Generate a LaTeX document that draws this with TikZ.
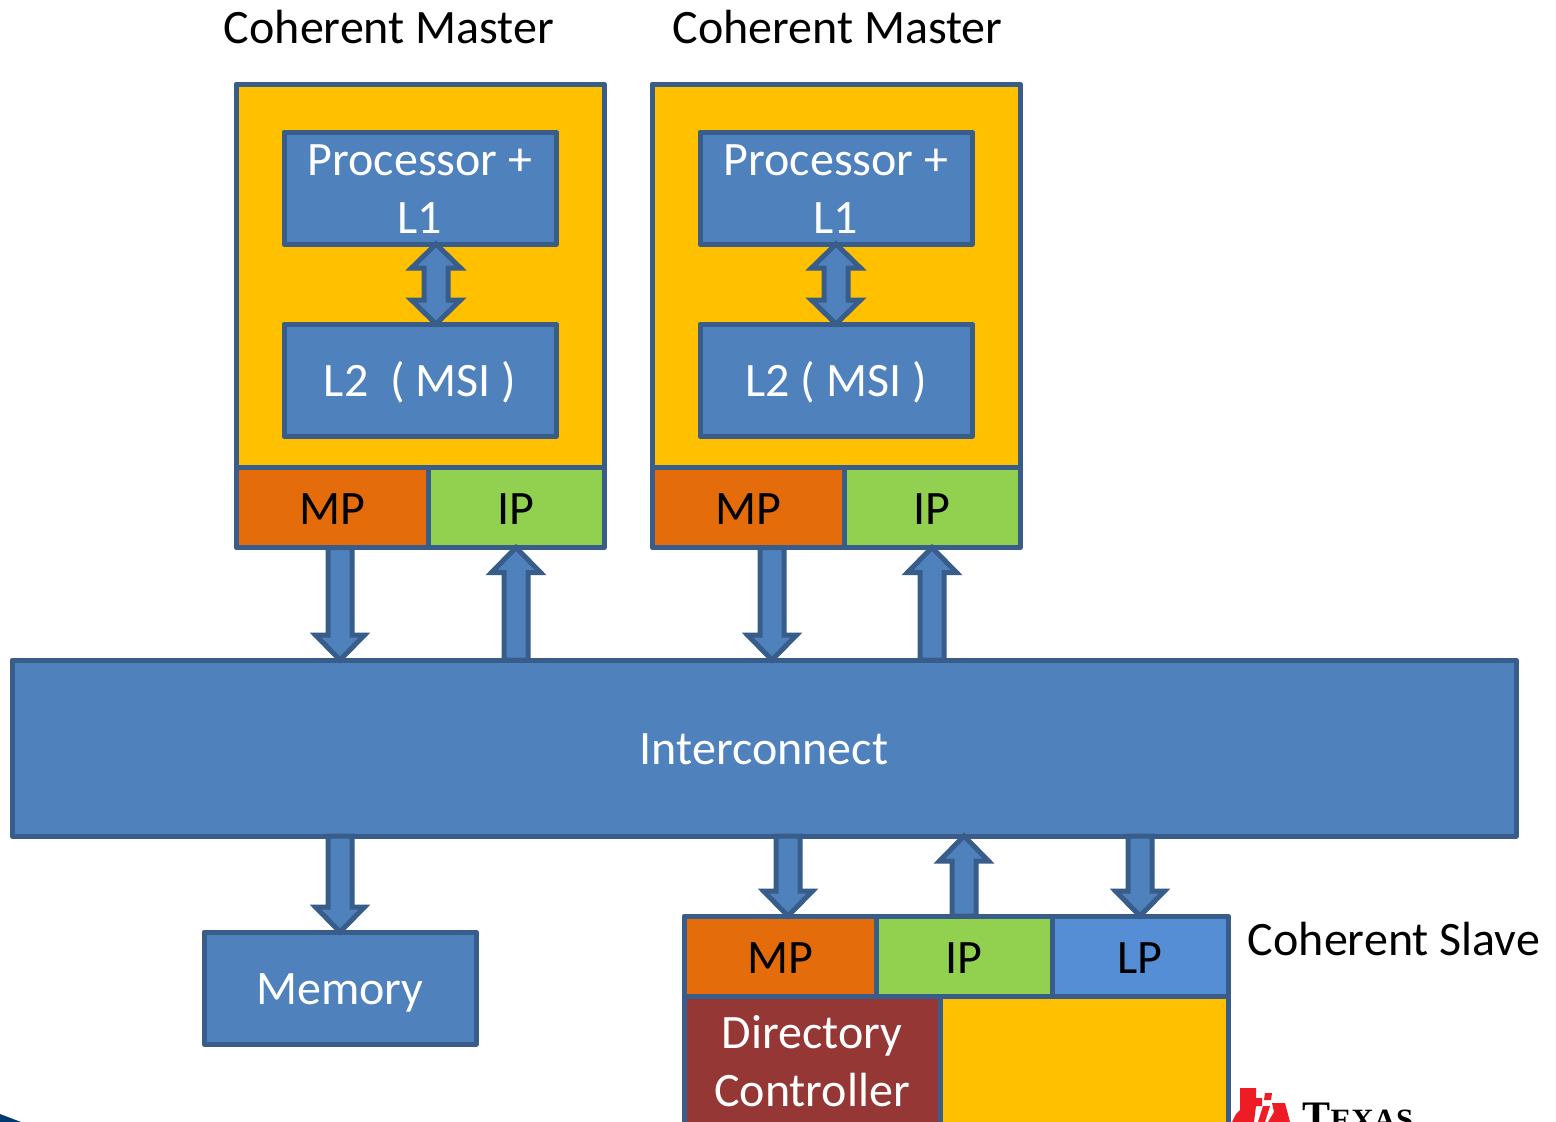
\documentclass[tikz,border=0pt]{standalone}
\usepackage{fontspec}
\setmainfont{Carlito}
\newfontfamily\logofont{Liberation Serif}
\usetikzlibrary{calc}
\definecolor{edgeblue}{HTML}{385D8A}
\definecolor{boxblue}{HTML}{4F81BD}
\definecolor{gold}{HTML}{FFC000}
\definecolor{portorange}{HTML}{E46C0A}
\definecolor{portgreen}{HTML}{92D050}
\definecolor{portblue}{HTML}{558ED5}
\definecolor{dirred}{HTML}{953735}
\definecolor{tired}{HTML}{EE1C25}
\definecolor{cornerblue}{HTML}{003A70}
\newcommand{\bx}[7]{\node[#6,minimum width={#4pt-#2pt},minimum height={#5pt-#3pt}] (#1) at ({(#2+#4)/2},{(#3+#5)/2}) {#7};}
\tikzset{
  x=1pt,y=-1pt,
  base/.style={draw=edgeblue,line width=5pt,line join=round,inner sep=0pt,outer sep=0pt,rectangle,font=\fontsize{48}{58}\selectfont,align=center},
  solid box/.style={base,fill=boxblue,text=white},
  one line/.style={text height=32pt,text depth=0pt},
  port line/.style={text height=34pt,text depth=0pt},
  frame/.style={base,fill=gold},
  mp port/.style={base,fill=portorange,text=black,port line},
  ip port/.style={base,fill=portgreen,text=black,port line},
  lp port/.style={base,fill=portblue,text=black,port line},
  dir box/.style={base,fill=dirred,text=white},
  caption/.style={inner sep=0pt,outer sep=0pt,text=black,font=\fontsize{48}{58}\selectfont,anchor=base},
  arrow look/.style={draw=edgeblue,fill=boxblue,line width=5pt,line join=miter,miter limit=10},
  headdown/.style={arrow look,to path={let \p1=(\tikztostart),\p2=(\tikztotarget) in
    (\x1-12pt,\y1) -- (\x1+12pt,\y1) -- (\x1+12pt,\y2+25pt) -- (\x1+24.5pt,\y2+25pt) -- (\x2,\y2) -- (\x1-24.5pt,\y2+25pt) -- (\x1-12pt,\y2+25pt) -- cycle}},
  headup/.style={arrow look,to path={let \p1=(\tikztostart),\p2=(\tikztotarget) in
    (\x1-12pt,\y1) -- (\x1+12pt,\y1) -- (\x1+12pt,\y2-25pt) -- (\x1+24.5pt,\y2-25pt) -- (\x2,\y2) -- (\x1-24.5pt,\y2-25pt) -- (\x1-12pt,\y2-25pt) -- cycle}},
  headboth/.style={arrow look,to path={let \p1=(\tikztostart),\p2=(\tikztotarget) in
    (\x1,\y1) -- (\x1+24.5pt,\y1-24pt) -- (\x1+12pt,\y1-24pt) -- (\x1+12pt,\y2+24pt) -- (\x1+24.5pt,\y2+24pt) -- (\x2,\y2) -- (\x1-24.5pt,\y2+24pt) -- (\x1-12pt,\y2+24pt) -- (\x1-12pt,\y1-24pt) -- (\x1-24.5pt,\y1-24pt) -- cycle}},
}
\begin{document}
\begin{tikzpicture}
\clip (0,0) rectangle (1556,1122);
\fill[white] (0,0) rectangle (1556,1122);
% corner and logo fragments
\fill[cornerblue] (0,1114) -- (21,1122) -- (0,1122) -- cycle;
\fill[tired] (1240,1088) -- (1256,1088) -- (1256,1098) -- (1262,1098) -- (1262,1106) -- (1256,1106) -- (1254,1122) -- (1232,1122) -- (1236,1114) -- (1240,1110) -- cycle;
\fill[tired] (1265,1093) -- (1272,1093) -- (1271,1100) -- (1264,1100) -- cycle;
\fill[tired] (1263,1106) -- (1270,1106) -- (1265,1122) -- (1258,1122) -- cycle;
\fill[tired] (1272,1103) -- (1285,1103) -- (1290,1122) -- (1268,1122) -- (1274,1112) -- cycle;
\node[inner sep=0pt,anchor=base west,font=\logofont\bfseries\fontsize{42}{42}\selectfont] (logoT) at (1302,1130) {T};
\node[inner sep=0pt,anchor=base west,font=\logofont\bfseries\fontsize{31}{31}\selectfont] (logoRest) at (logoT.base east) {EXAS};

% Captions
\node[caption] (cap1) at (389,43) {Coherent Master};
\node[caption] (cap2) at (837.5,43) {Coherent Master};
\node[caption] (cap3) at (1394,955.5) {Coherent Slave};

% First master
\bx{frameA}{236}{84}{604}{467.5}{frame}{}
\bx{procA}{284}{132}{556}{244}{solid box}{\rule{0pt}{33pt}Processor +\\L1}
\bx{ltwoA}{284}{324}{556}{436}{solid box,one line}{L2~~( MSI )}
\bx{mpA}{236}{467.5}{428}{547.5}{mp port}{MP}
\bx{ipA}{428}{467.5}{604}{547.5}{ip port}{IP}
% Second master
\bx{frameB}{652}{84}{1020}{467.5}{frame}{}
\bx{procB}{700}{132}{972}{244}{solid box}{\rule{0pt}{33pt}Processor +\\L1}
\bx{ltwoB}{700}{324}{972}{436}{solid box,one line}{L2 ( MSI )}
\bx{mpB}{652}{467.5}{844}{547.5}{mp port}{MP}
\bx{ipB}{844}{467.5}{1020}{547.5}{ip port}{IP}
% Interconnect and memory
\bx{inter}{12}{660}{1516}{836}{solid box,one line}{Interconnect}
\bx{mem}{204}{932}{476}{1044}{solid box,one line}{Memory}
% Slave
\bx{mpS}{684}{916}{876}{996}{mp port}{MP}
\bx{ipS}{876}{916}{1052}{996}{ip port}{IP}
\bx{lpS}{1052}{916}{1228}{996}{lp port}{LP}
\bx{dirS}{684}{996}{940}{1126}{dir box}{Directory\\Controller}
\bx{goldS}{940}{996}{1228}{1126}{frame}{}

% Arrow columns
\coordinate (cA) at (436,0);
\coordinate (cB) at (836,0);
\coordinate (dA) at (340,0);
\coordinate (uA) at (516,0);
\coordinate (dB) at (772,0);
\coordinate (uB) at (932,0);
\coordinate (dS) at (788,0);
\coordinate (uS) at (964,0);
\coordinate (lS) at (1140,0);

\draw[headboth] (procA.south -| cA) to (ltwoA.north -| cA);
\draw[headboth] (procB.south -| cB) to (ltwoB.north -| cB);
\draw[headdown] (mpA.south -| dA) to (inter.north -| dA);
\draw[headup] (inter.north -| uA) to (ipA.south -| uA);
\draw[headdown] (mpB.south -| dB) to (inter.north -| dB);
\draw[headup] (inter.north -| uB) to (ipB.south -| uB);
\draw[headdown] (inter.south -| dA) to (mem.north -| dA);
\draw[headdown] (inter.south -| dS) to (mpS.north -| dS);
\draw[headup] (ipS.north -| uS) to (inter.south -| uS);
\draw[headdown] (inter.south -| lS) to (lpS.north -| lS);
\end{tikzpicture}
\end{document}
